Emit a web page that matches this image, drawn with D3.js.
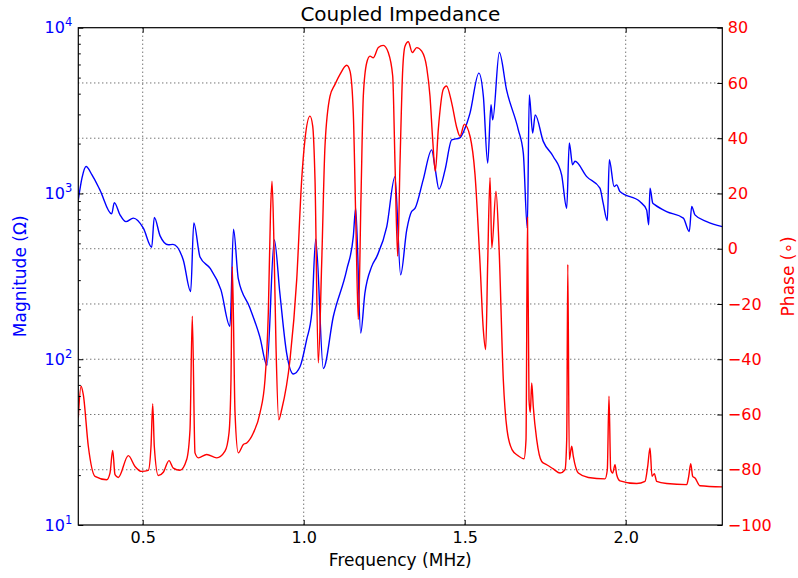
<!DOCTYPE html>
<html lang="en">
<head>
<meta charset="UTF-8">
<title>Coupled Impedance</title>
<script src="https://d3js.org/d3.v7.min.js"></script>
<style>
body { margin: 0; background: #fff; }
text { font-family: "DejaVu Sans", sans-serif; }
.grid line { stroke: #222; stroke-width: 0.9; stroke-dasharray: 1,3; }
.domain { display: none; }
</style>
</head>
<body>
<div id="chart"></div>
<script>
// frequency (MHz) / magnitude (ohm)
var magnitude = [
  [0.300, 915], [0.3115, 1242], [0.324, 1453], [0.3425, 1294], [0.367, 1052],
  [0.4037, 753], [0.4118, 881], [0.4295, 743], [0.448, 676], [0.4708, 710],
  [0.502, 618], [0.528, 474], [0.536, 717], [0.554, 555], [0.5795, 490],
  [0.594, 493], [0.626, 397], [0.649, 256], [0.6587, 665], [0.678, 414],
  [0.709, 354], [0.743, 262], [0.771, 158], [0.782, 609], [0.797, 305],
  [0.833, 204], [0.864, 136], [0.886, 92], [0.9087, 525], [0.926, 250],
  [0.947, 109], [0.968, 81.5], [0.9885, 90], [1.009, 131], [1.025, 190],
  [1.0373, 530], [1.061, 88], [1.092, 181], [1.1335, 346], [1.154, 549],
  [1.1615, 815], [1.177, 144], [1.190, 250], [1.211, 362], [1.227, 416],
  [1.258, 631], [1.2835, 1264], [1.301, 323], [1.320, 603], [1.335, 778],
  [1.346, 815], [1.371, 1208], [1.3975, 1832], [1.408, 1422], [1.420, 1062],
  [1.439, 1387], [1.4596, 2104], [1.485, 2167], [1.499, 2421], [1.5165, 3055],
  [1.544, 5323], [1.558, 3846], [1.5714, 1524], [1.5817, 3427], [1.587, 2778],
  [1.6075, 7079], [1.630, 4217], [1.6665, 2421], [1.682, 1750], [1.6944, 618],
  [1.7006, 3936], [1.711, 2312], [1.719, 2979], [1.744, 2062], [1.775, 1671],
  [1.801, 1294], [1.8168, 815], [1.8248, 2014], [1.835, 1489], [1.8425, 1563],
  [1.879, 1264], [1.920, 1077], [1.930, 874], [1.9429, 686], [1.9491, 1596],
  [1.964, 1101], [1.972, 1127], [1.982, 1026], [2.044, 893], [2.065, 796],
  [2.0714, 647], [2.0755, 1077], [2.084, 874], [2.091, 853], [2.127, 778],
  [2.179, 710], [2.1975, 589], [2.205, 834], [2.215, 743], [2.2516, 676],
  [2.300, 631]
];

// frequency (MHz) / phase (degrees)
var phase = [
  [0.300, -61.2], [0.3084, -49.8], [0.3155, -52.8], [0.3311, -71.5], [0.3519, -82.4],
  [0.3882, -83.6], [0.3984, -81.2], [0.4068, -73.0], [0.414, -81.8], [0.4242, -82.8],
  [0.4553, -74.9], [0.4761, -78.8], [0.4969, -80.6], [0.5174, -80.2], [0.5258, -71.5],
  [0.5311, -56.2], [0.536, -71.5], [0.5484, -82.1], [0.564, -80.9], [0.5817, -76.7],
  [0.595, -79.4], [0.6158, -80.2], [0.6366, -76.3], [0.6469, -65.5], [0.654, -24.4],
  [0.6624, -73.9], [0.6727, -75.7], [0.6988, -74.5], [0.7298, -75.7], [0.7556, -73.3],
  [0.768, -66.7], [0.7742, -47.4], [0.7783, -6.4], [0.7867, -59.4], [0.7969, -73.9],
  [0.8125, -70.9], [0.823, -70.3], [0.8435, -66.7], [0.8643, -59.4], [0.8798, -47.4],
  [0.8901, -23.2], [0.8969, 13.0], [0.9016, 24.4], [0.9078, 0.9], [0.914, -35.3],
  [0.9224, -61.9], [0.9317, -58.2], [0.9575, -40.1], [0.9783, -11.2], [0.9938, 25.1],
  [1.004, 39.6], [1.0196, 48.0], [1.028, 44.4], [1.0351, 25.1], [1.0453, -41.3],
  [1.0559, -5.1], [1.0661, 37.1], [1.0817, 55.2], [1.0972, 59.5], [1.1127, 63.1],
  [1.1335, 66.4], [1.1438, 64.3], [1.154, 49.2], [1.1624, 7.0], [1.1696, -25.6],
  [1.178, 19.0], [1.1851, 55.2], [1.1957, 67.3], [1.2059, 69.7], [1.2162, 69.1],
  [1.2317, 72.8], [1.2472, 73.6], [1.2627, 71.0], [1.2764, 62.5], [1.2835, 31.1],
  [1.2919, -2.7], [1.2991, 31.1], [1.3075, 64.9], [1.3146, 73.3], [1.3248, 74.9],
  [1.3373, 71.0], [1.3509, 72.8], [1.3665, 71.5], [1.382, 65.6], [1.3922, 55.2],
  [1.4006, 39.5], [1.4087, 28.0], [1.418, 43.2], [1.4335, 57.7], [1.4435, 58.9],
  [1.4596, 52.8], [1.4752, 43.9], [1.4854, 40.7], [1.4988, 45.0], [1.5165, 40.7],
  [1.532, 26.9], [1.5475, -5.1], [1.5578, -29.3], [1.5652, -36.5], [1.5714, -5.1],
  [1.5786, 25.7], [1.5842, 0.3], [1.5972, 20.8], [1.6065, 0.9], [1.6199, -47.4],
  [1.6314, -65.5], [1.6469, -72.7], [1.6656, -74.9], [1.6842, -76.0], [1.6904, -69.1],
  [1.695, 11.3], [1.6997, -54.6], [1.7037, -59.3], [1.7081, -48.6], [1.713, -57.2],
  [1.7236, -69.1], [1.7391, -77.0], [1.7547, -78.2], [1.7752, -79.7], [1.796, -81.2],
  [1.8115, -80.0], [1.8168, -69.1], [1.8202, -5.7], [1.8248, -76.3], [1.8323, -71.5],
  [1.8373, -75.2], [1.8528, -81.2], [1.8839, -82.8], [1.9357, -83.3], [1.9429, -80.0],
  [1.9481, -53.4], [1.9534, -80.0], [1.9596, -81.2], [1.9668, -78.2], [1.972, -81.8],
  [1.9823, -84.0], [2.0342, -85.0], [2.06, -84.2], [2.0683, -78.8], [2.0755, -72.1],
  [2.0817, -82.4], [2.0888, -81.4], [2.0963, -84.2], [2.1273, -85.0], [2.1894, -85.4],
  [2.1957, -82.4], [2.2019, -77.8], [2.2081, -82.4], [2.2152, -83.0], [2.2308, -85.8],
  [2.300, -86.2]
];

var freqTicks = [0.5, 1.0, 1.5, 2.0];
var magTicks = [10, 100, 1000, 10000];
var phaseTicks = [-100, -80, -60, -40, -20, 0, 20, 40, 60, 80];

var margin = {top: 27.7, right: 75.7, bottom: 53, left: 78.3},
    width = 798 - margin.left - margin.right,
    height = 578 - margin.top - margin.bottom;

var svg = d3.select("#chart").append("svg")
    .attr("width", 798)
    .attr("height", 578);

var g = svg.append("g")
    .attr("transform", "translate(" + margin.left + "," + margin.top + ")");

var x = d3.scaleLinear().domain([0.3, 2.3]).range([0, width]);
var yMag = d3.scaleLog().domain([10, 10000]).range([height, 0]);
var yPhase = d3.scaleLinear().domain([-100, 80]).range([height, 0]);

// dotted grid
var grid = g.append("g").attr("class", "grid");
grid.selectAll(".vg").data(freqTicks).enter().append("line")
    .attr("x1", d => x(d)).attr("x2", d => x(d))
    .attr("y1", 0).attr("y2", height);
grid.selectAll(".hg").data(phaseTicks.slice(1, -1)).enter().append("line")
    .attr("x1", 0).attr("x2", width)
    .attr("y1", d => yPhase(d)).attr("y2", d => yPhase(d));

svg.append("clipPath").attr("id", "plot")
  .append("rect").attr("width", width).attr("height", height);

var plot = g.append("g").attr("clip-path", "url(#plot)");

var magLine = d3.line()
    .x(d => x(d[0])).y(d => yMag(d[1]))
    .curve(d3.curveMonotoneX);
var phaseLine = d3.line()
    .x(d => x(d[0])).y(d => yPhase(d[1]))
    .curve(d3.curveMonotoneX);

plot.append("path").datum(magnitude)
    .attr("d", magLine)
    .attr("fill", "none").attr("stroke", "#0000ff").attr("stroke-width", 1.4);
plot.append("path").datum(phase)
    .attr("d", phaseLine)
    .attr("fill", "none").attr("stroke", "#ff0000").attr("stroke-width", 1.4);

// x axes, ticks pointing inward
var xAxis = g.append("g")
    .attr("transform", "translate(0," + height + ")")
    .call(d3.axisBottom(x).tickValues(freqTicks).tickFormat(d3.format(".1f"))
      .tickSize(-5).tickPadding(7));
xAxis.selectAll("text").attr("font-size", 16).attr("fill", "#000");
g.append("g")
    .call(d3.axisTop(x).tickValues(freqTicks).tickFormat("").tickSize(-5));

// left log axis
var minor = [];
magTicks.slice(0, -1).forEach(function(b) {
  for (var i = 2; i < 10; i++) minor.push(b * i);
});
g.append("g")
    .call(d3.axisLeft(yMag).tickValues(magTicks).tickFormat("").tickSize(-5));
g.append("g")
    .call(d3.axisLeft(yMag).tickValues(minor).tickFormat("").tickSize(-2.5));

var magLabels = g.append("g").selectAll("text").data(magTicks).enter().append("text")
    .attr("x", -6).attr("y", d => yMag(d)).attr("dy", "0.36em")
    .attr("text-anchor", "end").attr("fill", "#0000ff").attr("font-size", 16);
magLabels.append("tspan").text("10");
magLabels.append("tspan").attr("dy", -7).attr("font-size", 11.5)
    .text(d => Math.round(Math.log10(d)));

// right phase axis
var rAxis = g.append("g")
    .attr("transform", "translate(" + width + ",0)")
    .call(d3.axisRight(yPhase).tickValues(phaseTicks).tickFormat(d3.format("d"))
      .tickSize(-5).tickPadding(5.5));
rAxis.selectAll("text").attr("font-size", 16).attr("fill", "#ff0000");

g.selectAll(".tick line").attr("stroke", "#000").attr("stroke-width", 1);

// frame
g.append("rect")
    .attr("width", width).attr("height", height)
    .attr("fill", "none").attr("stroke", "#000").attr("stroke-width", 1.2);

// titles
svg.append("text")
    .attr("x", margin.left + width / 2).attr("y", 21)
    .attr("text-anchor", "middle").attr("font-size", 20).attr("fill", "#000")
    .text("Coupled Impedance");
svg.append("text")
    .attr("x", margin.left + width / 2).attr("y", 566)
    .attr("text-anchor", "middle").attr("font-size", 17).attr("fill", "#000")
    .text("Frequency (MHz)");
svg.append("text")
    .attr("transform", "translate(25.5," + (margin.top + height / 2) + ") rotate(-90)")
    .attr("text-anchor", "middle").attr("font-size", 17).attr("fill", "#0000ff")
    .text("Magnitude (\u03A9)");
svg.append("text")
    .attr("transform", "translate(794," + (margin.top + height / 2) + ") rotate(-90)")
    .attr("text-anchor", "middle").attr("font-size", 17).attr("fill", "#ff0000")
    .text("Phase (\u2218)");
</script>
</body>
</html>
